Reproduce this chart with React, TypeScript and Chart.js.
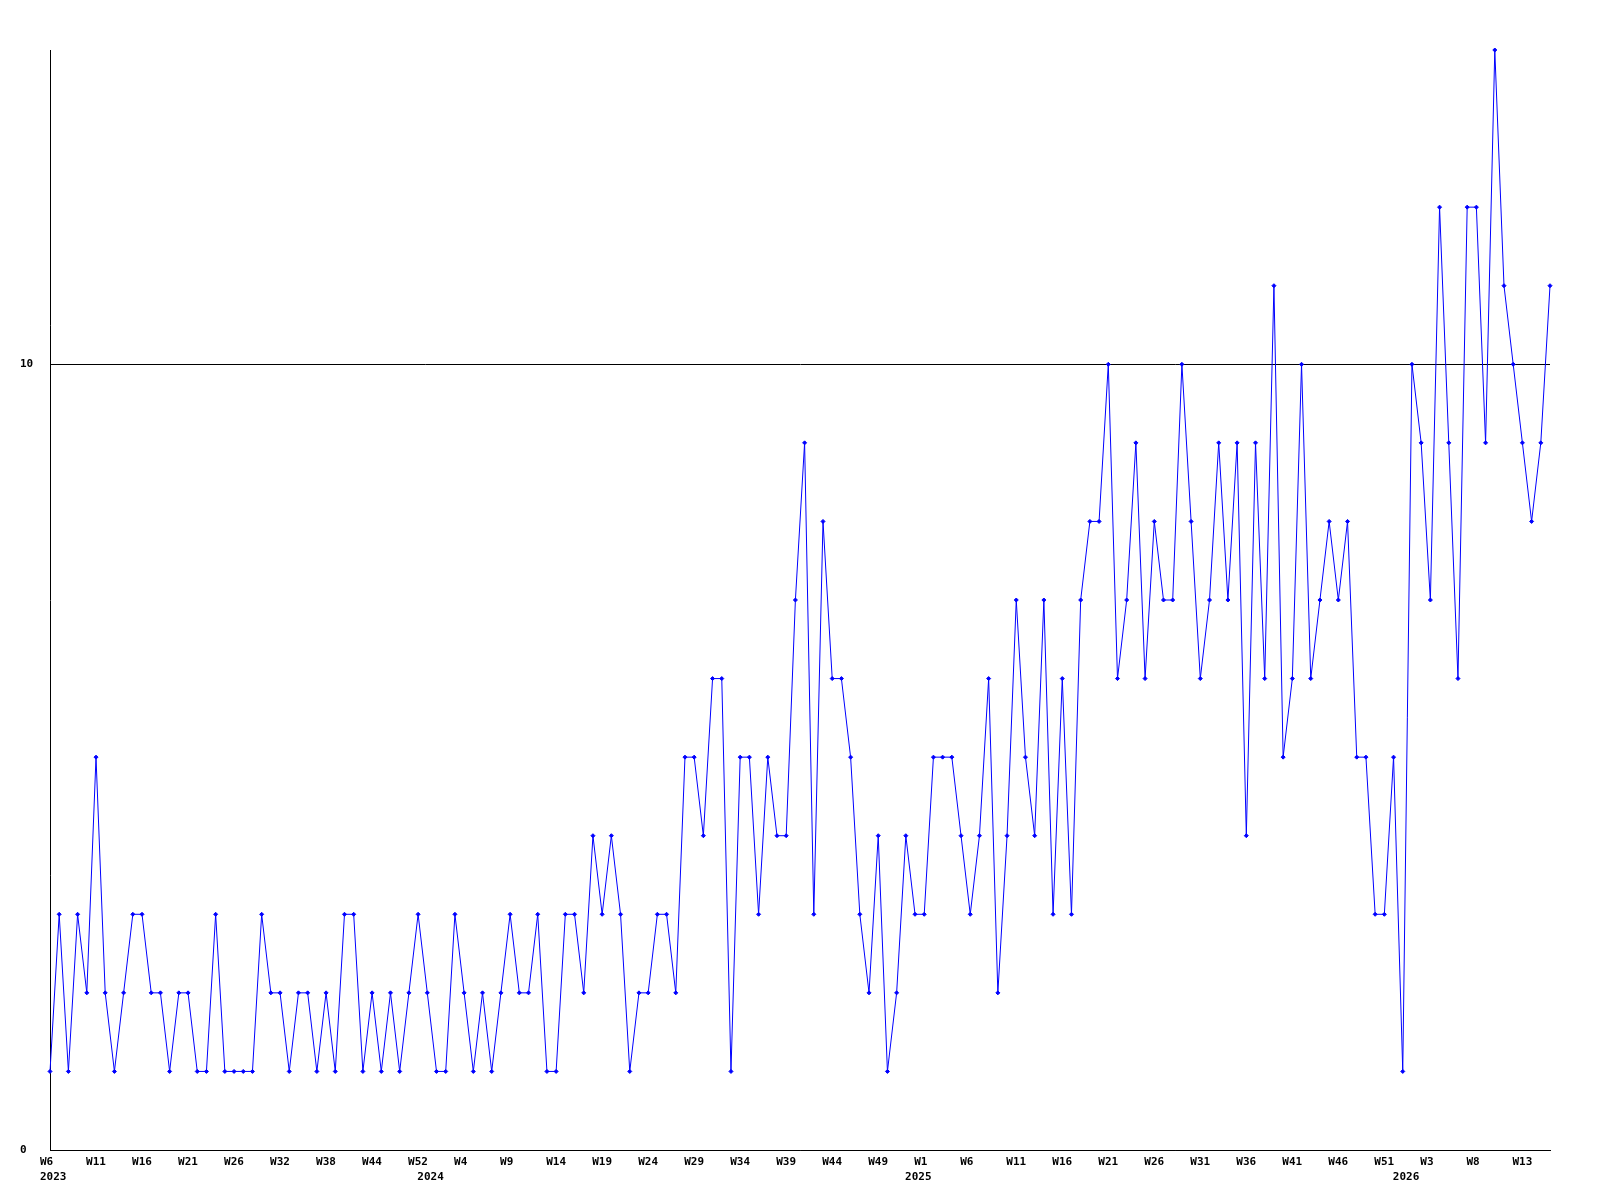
import React, { useEffect, useRef } from 'react';
import { Chart, registerables } from 'chart.js';

Chart.register(...registerables);

// Tick labels shown every 5th week on the x axis
const weekTickLabels = [
  'W6', 'W11', 'W16', 'W21', 'W26', 'W32', 'W38', 'W44', 'W52',
  'W4', 'W9', 'W14', 'W19', 'W24', 'W29', 'W34', 'W39', 'W44', 'W49',
  'W1', 'W6', 'W11', 'W16', 'W21', 'W26', 'W31', 'W36', 'W41', 'W46', 'W51',
  'W3', 'W8', 'W13',
];
const TICK_EVERY = 5;

// Year labels and the week index where each one is printed
const yearLabels = ['2023', '2024', '2025', '2026'];
const yearPositions = [0, 41, 94, 147];

// Weekly values
const values = [
  1, 3, 1, 3, 2, 5, 2, 1, 2, 3,
  3, 2, 2, 1, 2, 2, 1, 1, 3, 1,
  1, 1, 1, 3, 2, 2, 1, 2, 2, 1,
  2, 1, 3, 3, 1, 2, 1, 2, 1, 2,
  3, 2, 1, 1, 3, 2, 1, 2, 1, 2,
  3, 2, 2, 3, 1, 1, 3, 3, 2, 4,
  3, 4, 3, 1, 2, 2, 3, 3, 2, 5,
  5, 4, 6, 6, 1, 5, 5, 3, 5, 4,
  4, 7, 9, 3, 8, 6, 6, 5, 3, 2,
  4, 1, 2, 4, 3, 3, 5, 5, 5, 4,
  3, 4, 6, 2, 4, 7, 5, 4, 7, 3,
  6, 3, 7, 8, 8, 10, 6, 7, 9, 6,
  8, 7, 7, 10, 8, 6, 7, 9, 7, 9,
  4, 9, 6, 11, 5, 6, 10, 6, 7, 8,
  7, 8, 5, 5, 3, 3, 5, 1, 10, 9,
  7, 12, 9, 6, 12, 12, 9, 14, 11, 10,
  9, 8, 9, 11,
];

const yTickValues = [0, 10];
const Y_MAX = 14;

const categories = values.map((_, i) =>
  i % TICK_EVERY === 0 ? weekTickLabels[i / TICK_EVERY] ?? '' : ''
);

const FONT = { family: '"DejaVu Sans Mono", monospace', size: 11, weight: 'bold' as const };

export default function App() {
  const ref = useRef<HTMLCanvasElement | null>(null);

  useEffect(() => {
    if (!ref.current) return;
    const chart = new Chart(ref.current, {
      type: 'line',
      data: {
        labels: categories,
        datasets: [
          {
            data: values,
            borderColor: '#0000ff',
            backgroundColor: '#0000ff',
            borderWidth: 1,
            tension: 0,
            fill: false,
            pointStyle: 'rectRot',
            pointRadius: 2,
            pointBorderWidth: 1,
            pointBorderColor: '#0000ff',
            pointBackgroundColor: '#0000ff',
            clip: false,
          },
        ],
      },
      options: {
        animation: false,
        responsive: false,
        maintainAspectRatio: false,
        layout: { padding: { left: 20, top: 50, right: 50, bottom: 14 } },
        plugins: { legend: { display: false }, tooltip: { enabled: false } },
        scales: {
          x: {
            type: 'category',
            position: 'bottom',
            offset: false,
            grid: { display: false, drawTicks: false },
            border: { display: true, color: '#000', width: 1 },
            ticks: {
              autoSkip: false,
              maxRotation: 0,
              minRotation: 0,
              align: 'start',
              labelOffset: -10,
              padding: 6,
              color: '#000',
              font: FONT,
              callback: (_v: any, i: number) => categories[i],
            },
            afterFit: (s: any) => {
              s.height = 20;
            },
          },
          x2: {
            type: 'category',
            position: 'bottom',
            offset: false,
            labels: categories,
            grid: { display: false, drawTicks: false },
            border: { display: false },
            ticks: {
              autoSkip: false,
              maxRotation: 0,
              minRotation: 0,
              align: 'start',
              labelOffset: -10,
              padding: 1,
              color: '#000',
              font: FONT,
              callback: (_v: any, i: number) => {
                const k = yearPositions.indexOf(i);
                return k >= 0 ? yearLabels[k] : '';
              },
            },
            afterFit: (s: any) => {
              s.height = 16;
            },
          },
          y: {
            type: 'linear',
            min: 0,
            max: Y_MAX,
            grid: {
              display: true,
              drawTicks: false,
              color: '#000',
              lineWidth: 1,
            },
            border: { display: true, color: '#000', width: 1 },
            afterBuildTicks: (s: any) => {
              s.ticks = yTickValues.map((v) => ({ value: v }));
            },
            ticks: {
              crossAlign: 'far',
              padding: 0,
              color: '#000',
              font: FONT,
            },
            afterFit: (s: any) => {
              s.width = 30;
            },
          },
        },
      },
    });
    return () => chart.destroy();
  }, []);

  return (
    <div style={{ position: 'absolute', left: 0, top: 0, width: 1600, height: 1200, background: '#fff' }}>
      <canvas ref={ref} width={1600} height={1200} style={{ width: 1600, height: 1200, display: 'block' }} />
    </div>
  );
}
